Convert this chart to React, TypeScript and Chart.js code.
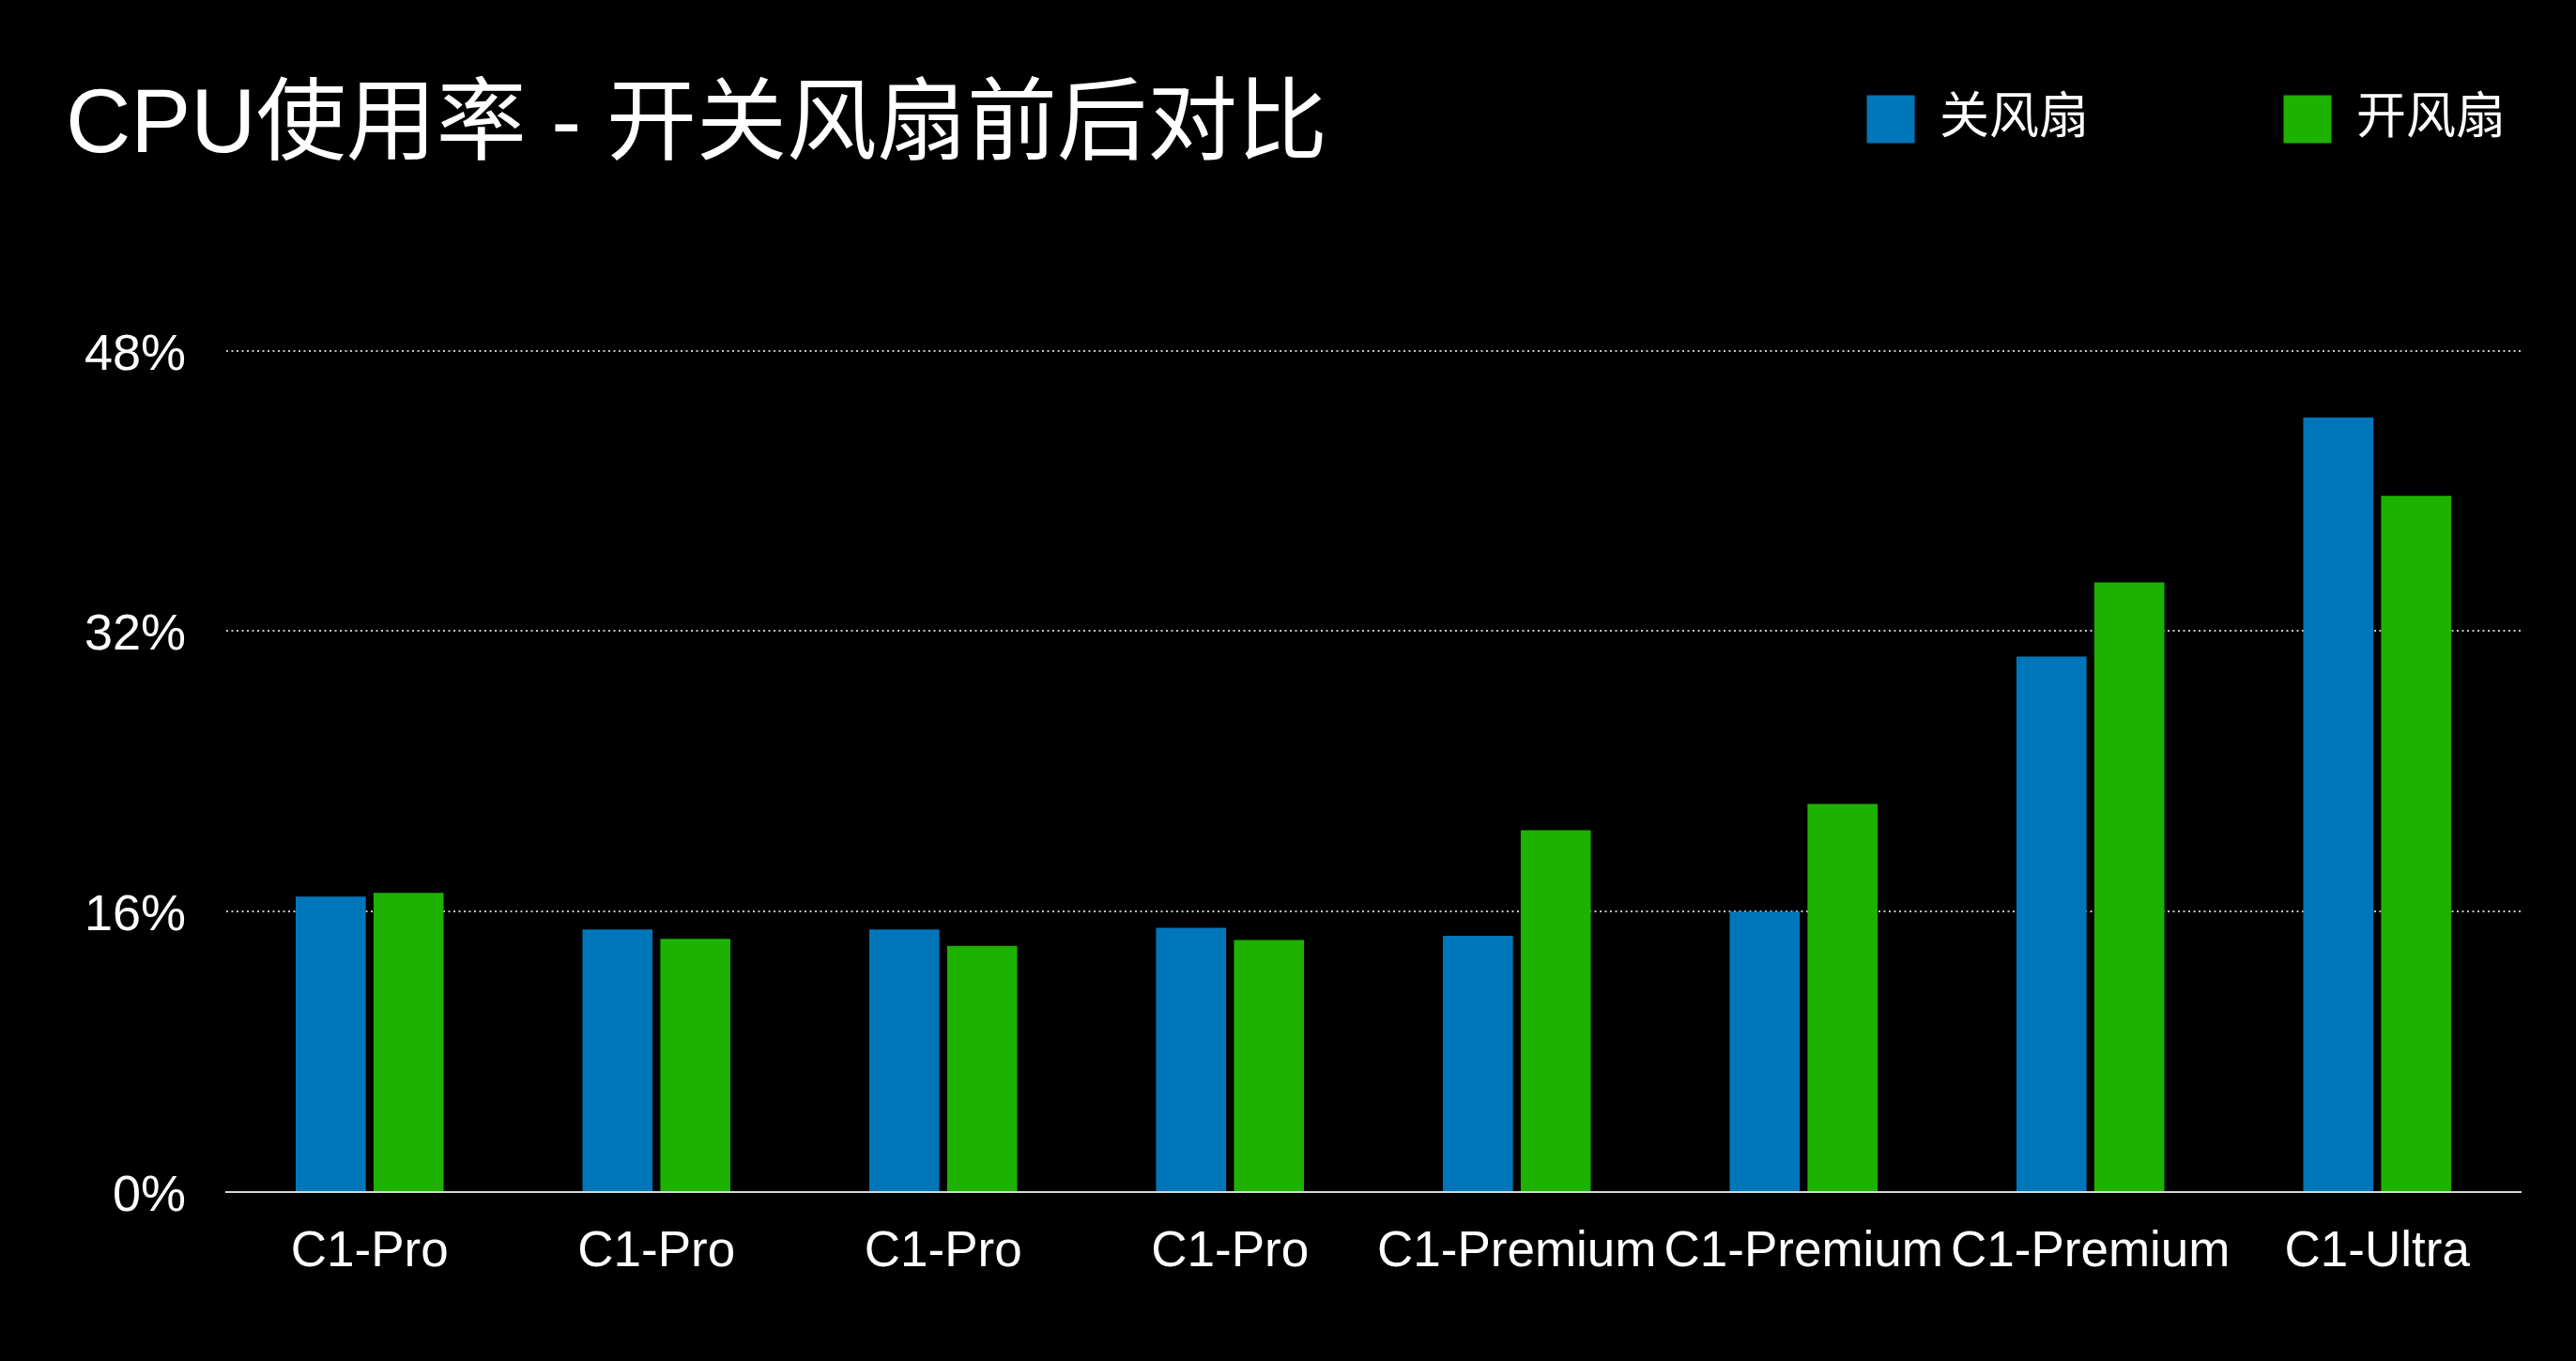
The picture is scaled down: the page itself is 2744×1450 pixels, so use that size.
import React, { useEffect, useRef } from 'react';
import { Chart, registerables } from 'chart.js';

Chart.register(...registerables);

const categories = ['C1-Pro', 'C1-Pro', 'C1-Pro', 'C1-Pro', 'C1-Premium', 'C1-Premium', 'C1-Premium', 'C1-Ultra'];
const seriesNames = ['关风扇', '开风扇'];
const fanOff = [16.85, 14.98, 14.98, 15.08, 14.62, 16.0, 30.55, 44.2];
const fanOn = [17.07, 14.45, 14.05, 14.38, 20.65, 22.15, 34.78, 39.72];
const yMax = 48;
const yStep = 16;
const titleText = 'CPU使用率 - 开关风扇前后对比';

const W = 2744;
const H = 1450;
const FONT = '"Liberation Sans", "Noto Sans CJK SC", sans-serif';

export default function App() {
  const ref = useRef<HTMLCanvasElement>(null);

  useEffect(() => {
    document.body.style.margin = '0';
    document.body.style.background = '#000';
    const chart = new Chart(ref.current as HTMLCanvasElement, {
      type: 'bar',
      data: {
        labels: categories,
        datasets: [
          { label: seriesNames[0], data: fanOff, backgroundColor: '#0076BA', borderWidth: 0 },
          { label: seriesNames[1], data: fanOn, backgroundColor: '#1DB100', borderWidth: 0 },
        ],
      },
      options: {
        responsive: false,
        animation: false,
        devicePixelRatio: 1,
        layout: { padding: { top: 84.5, left: 70, right: 59, bottom: 0 } },
        datasets: { bar: { categoryPercentage: 0.543, barPercentage: 0.9 } },
        plugins: {
          legend: {
            position: 'top',
            align: 'end',
            weight: 3000,
            labels: {
              color: '#ffffff',
              boxWidth: 51,
              boxHeight: 51,
              padding: 16,
              font: { family: FONT, size: 53 },
              generateLabels: (c: any) => {
                const items = (Chart.defaults as any).plugins.legend.labels.generateLabels(c);
                if (items.length > 0) items[0].text = items[0].text + ' '.repeat(13);
                return items;
              },
            },
          },
          title: {
            display: true,
            text: titleText,
            align: 'start',
            color: '#ffffff',
            font: { family: FONT, size: 96, weight: 'normal', lineHeight: 1.2 },
            padding: { top: -86, bottom: 181 },
            weight: 2000,
          },
          tooltip: { enabled: false },
        },
        scales: {
          x: {
            grid: { display: false, drawTicks: false },
            border: { display: true, color: '#d6d6d6', width: 2 },
            ticks: {
              color: '#ffffff',
              font: { family: FONT, size: 53 },
              padding: 33,
              autoSkip: false,
              maxRotation: 0,
              minRotation: 0,
            },
            afterFit: (s: any) => {
              s.height = 180;
            },
          },
          y: {
            min: 0,
            max: yMax,
            ticks: {
              stepSize: yStep,
              color: '#ffffff',
              font: { family: FONT, size: 54 },
              padding: 43,
              labelOffset: 5,
              callback: (v: any) => v + '%',
            },
            grid: {
              color: (ctx: any) => (ctx.tick && ctx.tick.value === 0 ? 'rgba(0,0,0,0)' : 'rgba(220,220,220,0.9)'),
              lineWidth: 2,
              drawTicks: false,
            },
            border: { display: false, dash: [2, 3.5] },
            afterFit: (s: any) => {
              s.width = 171;
            },
          },
        },
      } as any,
    });
    return () => chart.destroy();
  }, []);

  return (
    <div style={{ width: W, height: H, background: '#000' }}>
      <canvas ref={ref} width={W} height={H} style={{ display: 'block' }} />
    </div>
  );
}
